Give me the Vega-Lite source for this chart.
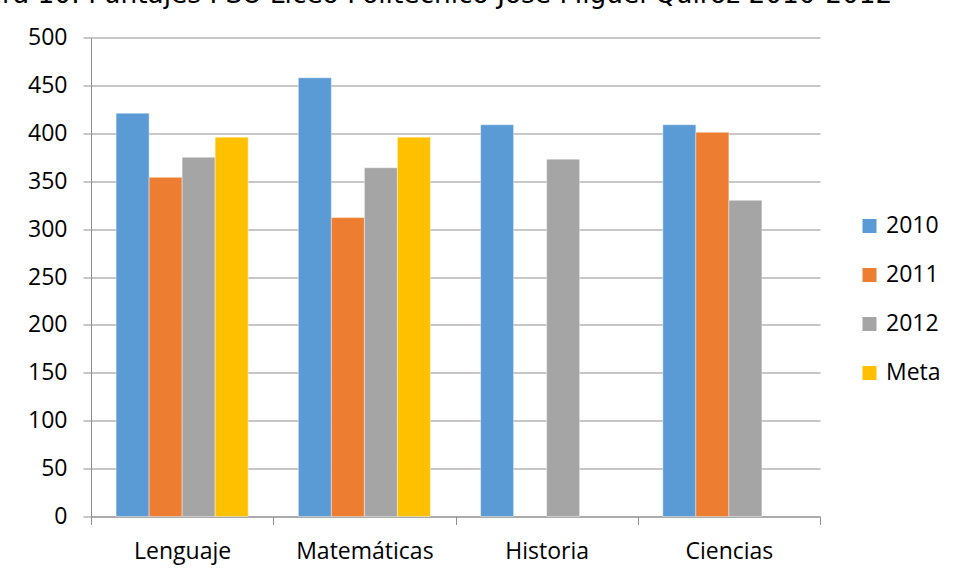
{
  "$schema": "https://vega.github.io/schema/vega-lite/v6.json",
  "width": 729,
  "height": 479,
  "autosize": {"type": "none"},
  "padding": {"left": 91, "top": 37.5, "right": 135, "bottom": 62},
  "background": "white",
  "title": {
    "text": "Figura 10: Puntajes PSU Liceo Politécnico José Miguel Quiroz 2010-2012",
    "font": "DejaVu Sans",
    "fontSize": 26.4,
    "fontWeight": "normal",
    "color": "#000000",
    "anchor": "start",
    "frame": "group",
    "baseline": "alphabetic",
    "offset": 4,
    "dy": 7,
    "dx": -143
  },
  "data": {
    "values": [
      {"area": "Lenguaje", "serie": "2010", "puntaje": 421},
      {"area": "Lenguaje", "serie": "2011", "puntaje": 354},
      {"area": "Lenguaje", "serie": "2012", "puntaje": 375},
      {"area": "Lenguaje", "serie": "Meta", "puntaje": 396},
      {"area": "Matemáticas", "serie": "2010", "puntaje": 458},
      {"area": "Matemáticas", "serie": "2011", "puntaje": 312},
      {"area": "Matemáticas", "serie": "2012", "puntaje": 364},
      {"area": "Matemáticas", "serie": "Meta", "puntaje": 396},
      {"area": "Historia", "serie": "2010", "puntaje": 409},
      {"area": "Historia", "serie": "2012", "puntaje": 373},
      {"area": "Ciencias", "serie": "2010", "puntaje": 409},
      {"area": "Ciencias", "serie": "2011", "puntaje": 401},
      {"area": "Ciencias", "serie": "2012", "puntaje": 330}
    ]
  },
  "mark": {"type": "bar", "stroke": "#ffffff", "strokeWidth": 0.7, "strokeOpacity": 0.6},
  "encoding": {
    "x": {
      "field": "area",
      "type": "nominal",
      "sort": ["Lenguaje", "Matemáticas", "Historia", "Ciencias"],
      "scale": {"paddingInner": 0, "paddingOuter": 0},
      "axis": {
        "title": null,
        "labelAngle": 0,
        "labelFont": "Open Sans",
        "labelFontSize": 23,
        "labelColor": "#000000",
        "labelBaseline": "alphabetic",
        "labelPadding": 34,
        "tickBand": "extent",
        "tickSize": 8,
        "tickColor": "#8f8f8f",
        "domainColor": "#8f8f8f",
        "grid": false
      }
    },
    "xOffset": {
      "field": "serie",
      "type": "nominal",
      "scale": {"paddingInner": 0, "paddingOuter": 0.76}
    },
    "y": {
      "field": "puntaje",
      "type": "quantitative",
      "scale": {"domain": [0, 500]},
      "axis": {
        "title": null,
        "values": [0, 50, 100, 150, 200, 250, 300, 350, 400, 450, 500],
        "labelFont": "Open Sans",
        "labelFontSize": 23,
        "labelColor": "#000000",
        "labelPadding": 16,
        "tickSize": 8,
        "tickColor": "#8f8f8f",
        "domainColor": "#8f8f8f",
        "gridColor": "#8f8f8f",
        "gridWidth": 1
      }
    },
    "color": {
      "field": "serie",
      "type": "nominal",
      "scale": {
        "domain": ["2010", "2011", "2012", "Meta"],
        "range": ["#5B9BD5", "#ED7D31", "#A5A5A5", "#FFC000"]
      },
      "legend": {
        "title": null,
        "orient": "none",
        "legendX": 767,
        "legendY": 177,
        "symbolType": "square",
        "symbolSize": 196,
        "symbolStrokeWidth": 0,
        "labelFont": "Open Sans",
        "labelFontSize": 23,
        "labelColor": "#000000",
        "labelOffset": 5,
        "rowPadding": 25
      }
    }
  },
  "config": {
    "view": {"stroke": null}
  }
}
